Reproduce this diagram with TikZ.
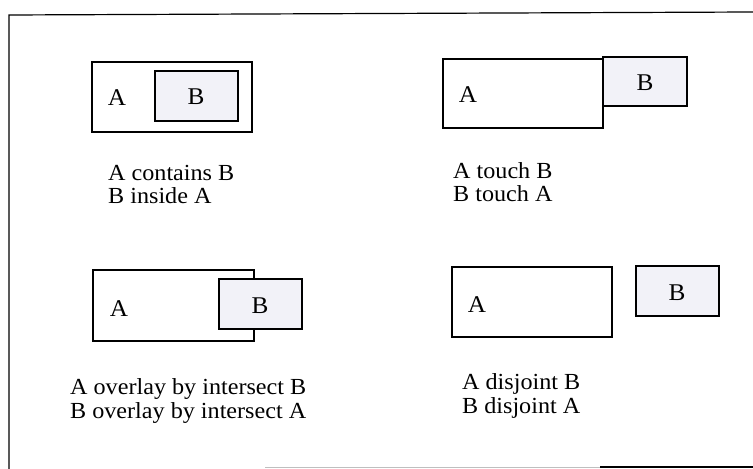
\documentclass[tikz,border=0pt]{standalone}
\usepackage{fontspec}
\setmainfont[FakeStretch=1.05]{Liberation Serif}
\begin{document}
\begin{tikzpicture}[x=1bp,y=-1bp,
  region/.style={draw=black,line width=1.3bp},
  regionB/.style={region,fill=bfill},
  lbl/.style={inner sep=0pt,font=\fontsize{24bp}{26bp}\selectfont},
  caption/.style={inner sep=0pt,anchor=base west,align=left,
    font=\fontsize{23bp}{23.5bp}\selectfont}]
\definecolor{bfill}{RGB}{242,242,248}
\useasboundingbox (0,0) rectangle (753,469);
% outer frame
\coordinate (f1) at (9,469);
\coordinate (f2) at (9,15);
\coordinate (f3) at (753,12);
\coordinate (f4) at (265,467);
\coordinate (f5) at (600,467);
\coordinate (f6) at (753,467);
\draw[line width=1.2bp] (f1) -- (f2) -- (f3);
\draw[line width=1bp,gray!50] (f4) -- (f5);
\draw[line width=1.2bp] (f5) -- (f6);
% A contains B
\draw[region] (92,62) rectangle (252,132);
\draw[regionB] (155,71) rectangle (238,121);
\node[lbl] (a1) at (117,98) {A};
\node[lbl] (b1) at (196,97) {B};
\node[caption] (c1) at (108,204) {A contains B\\B inside A};
% A touch B
\draw[regionB] (603,57) rectangle (687,106);
\draw[region] (443,59) rectangle (603,128);
\node[lbl] (a2) at (468,95) {A};
\node[lbl] (b2) at (645,83) {B};
\node[caption] (c2) at (453,202) {A touch B\\B touch A};
% A overlay B
\draw[region] (93,270) rectangle (254,341);
\draw[regionB] (219,279) rectangle (302,329);
\node[lbl] (a3) at (119,309) {A};
\node[lbl] (b3) at (260,306) {B};
\node[caption] (c3) at (70,418) {A overlay by intersect B\\B overlay by intersect A};
% A disjoint B
\draw[region] (452,267) rectangle (612,337);
\draw[regionB] (636,266) rectangle (719,316);
\node[lbl] (a4) at (477,305) {A};
\node[lbl] (b4) at (677,293) {B};
\node[caption] (c4) at (462,413) {A disjoint B\\B disjoint A};
\end{tikzpicture}
\end{document}
